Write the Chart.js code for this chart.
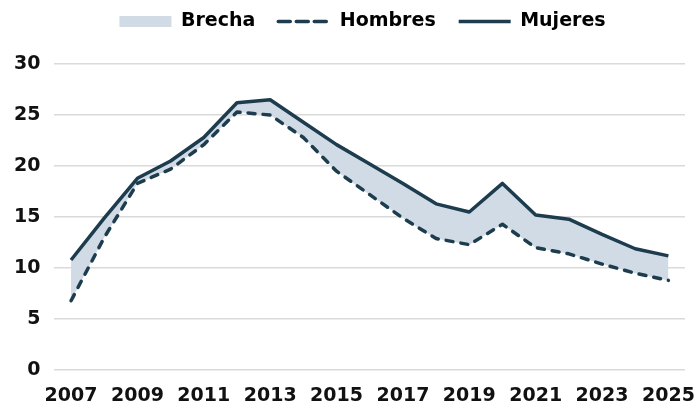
<!DOCTYPE html>
<html lang="es">
<head>
<meta charset="UTF-8">
<title>Brecha</title>
<script src="https://cdn.jsdelivr.net/npm/chart.js@4.4.0/dist/chart.umd.min.js"></script>
<style>
  body { margin: 0; background: #fff; }
</style>
</head>
<body>
<canvas id="canvas" width="698" height="407"></canvas>
<script>
// valores
const years = ['2007','2008','2009','2010','2011','2012','2013','2014','2015','2016',
               '2017','2018','2019','2020','2021','2022','2023','2024','2025'];
const hombres = [6.8, 13.0, 18.3, 19.7, 22.1, 25.3, 25.0, 22.8, 19.5, 17.2,
                 14.9, 12.9, 12.3, 14.3, 12.0, 11.4, 10.4, 9.5, 8.8];
const mujeres = [10.8, 14.9, 18.8, 20.5, 22.8, 26.2, 26.5, 24.3, 22.1, 20.2,
                 18.3, 16.3, 15.5, 18.3, 15.2, 14.8, 13.3, 11.9, 11.2];
const yTicks = [0, 5, 10, 15, 20, 25, 30];

const lineColor = '#1d3c4e';
const gapColor = '#d0dbe5';
const font = { family: 'DejaVu Sans', size: 19, weight: 'bold' };

// mover la leyenda más arriba y un poco a la derecha
const moveLegend = {
    id: 'moveLegend',
    afterLayout(chart) {
        const lg = chart.legend;
        lg.top -= 23; lg.bottom -= 23;
        lg.left += 20; lg.right += 20;
    }
};

new Chart(document.getElementById('canvas'), {
    type: 'line',
    data: {
        labels: years,
        datasets: [{
            label: 'Hombres',
            data: hombres,
            borderColor: lineColor,
            borderWidth: 3.5,
            borderDash: [7, 8],
            borderCapStyle: 'round',
            borderJoinStyle: 'round',
            pointRadius: 0,
            fill: false
        }, {
            label: 'Mujeres',
            data: mujeres,
            borderColor: lineColor,
            borderWidth: 3.5,
            borderJoinStyle: 'round',
            pointRadius: 0,
            backgroundColor: gapColor,
            fill: 0
        }]
    },
    plugins: [moveLegend],
    options: {
        responsive: false,
        animation: false,
        layout: { padding: { top: 12, right: 13, left: 0, bottom: -14 } },
        plugins: {
            tooltip: { enabled: false },
            legend: {
                position: 'top',
                labels: {
                    color: '#111',
                    font: font,
                    usePointStyle: true,
                    pointStyleWidth: 52,
                    boxHeight: 11,
                    padding: 23,
                    generateLabels: () => [
                        { text: 'Brecha', fillStyle: gapColor, strokeStyle: gapColor, lineWidth: 0, pointStyle: 'rect', hidden: false },
                        { text: 'Hombres', fillStyle: lineColor, strokeStyle: lineColor, lineWidth: 3.5, lineDash: [12, 6], lineCap: 'round', pointStyle: 'line', hidden: false },
                        { text: 'Mujeres', fillStyle: lineColor, strokeStyle: lineColor, lineWidth: 3.5, lineCap: 'butt', pointStyle: 'line', hidden: false }
                    ]
                }
            }
        },
        scales: {
            x: {
                offset: true,
                grid: { display: false, drawTicks: false },
                border: { display: false },
                afterFit: s => { s.paddingRight = 0; },
                ticks: {
                    color: '#111',
                    font: font,
                    autoSkip: false,
                    maxRotation: 0,
                    padding: 14,
                    callback: (v, i) => i % 2 === 0 ? years[i] : ''
                }
            },
            y: {
                min: 0,
                max: 30,
                afterBuildTicks: s => { s.ticks = yTicks.map(v => ({ value: v })); },
                grid: { color: '#dadada', lineWidth: 1.5, drawTicks: false },
                border: { display: false },
                ticks: { color: '#111', font: font, padding: 14 }
            }
        }
    }
});
</script>
</body>
</html>
